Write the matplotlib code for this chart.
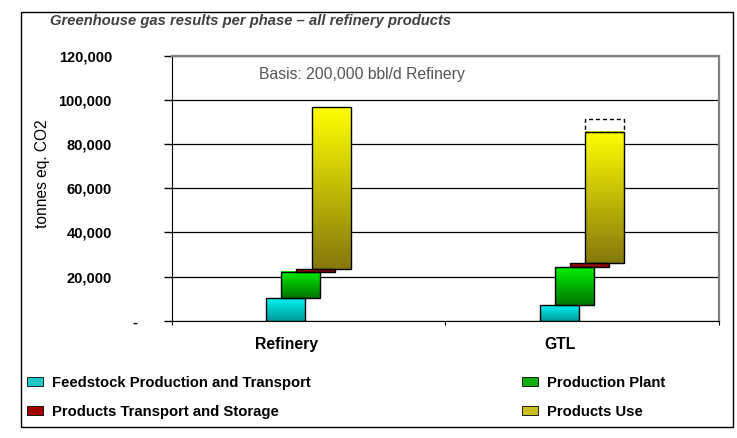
import numpy as np
import matplotlib
matplotlib.use('Agg')
import matplotlib.pyplot as plt
from matplotlib.colors import LinearSegmentedColormap
from matplotlib.patches import Patch, Rectangle
from matplotlib.transforms import blended_transform_factory

plt.rcParams['font.family'] = ['Liberation Sans', 'DejaVu Sans']

# Data (tonnes eq. CO2)
categories = ['Refinery', 'GTL']
feedstock = [10300, 7100]
production_plant = [11900, 17100]
products_transport = [1200, 1800]
products_use = [73200, 59600]
products_use_range = [0, 5700]   # dashed box on top of GTL products use

y_ticks = [0, 20000, 40000, 60000, 80000, 100000, 120000]
phase_names = ['Feedstock Production and Transport', 'Production Plant',
               'Products Transport and Storage', 'Products Use']

# gradient colours (bottom, top) for each phase
phase_colors = [('#009a9a', '#00f4f4'),
                ('#007400', '#00f000'),
                ('#7a0000', '#c81010'),
                ('#85780c', '#ffff00')]
legend_colors = ['#20c8c8', '#10b010', '#a00000', '#c8c020']

fig = plt.figure(figsize=(7.37, 4.38), dpi=100)
ax = fig.add_axes([171.7 / 737, 117.3 / 438, 547.3 / 737, 265 / 438])

bar_width = 0.1425
offsets = [-0.083, -0.028, 0.027, 0.083]
grad = np.linspace(0, 1, 256).reshape(-1, 1)

series = [feedstock, production_plant, products_transport, products_use]
for i, cat in enumerate(categories):
    base = 0
    for k, vals in enumerate(series):
        x0 = i + offsets[k] - bar_width / 2
        cmap = LinearSegmentedColormap.from_list('g%d' % k, phase_colors[k])
        ax.imshow(grad, extent=(x0, x0 + bar_width, base, base + vals[i]),
                  origin='lower', aspect='auto', cmap=cmap, zorder=2)
        ax.bar(i + offsets[k], vals[i], bottom=base, width=bar_width,
               fill=False, edgecolor='black', linewidth=1.0, zorder=3)
        base += vals[i]
    if products_use_range[i] > 0:
        ax.bar(i + offsets[3], products_use_range[i], bottom=base, width=bar_width,
               fill=False, edgecolor='black', linewidth=1.0, linestyle=(0, (3, 2)), zorder=3)

ax.set_xlim(-0.5, 1.5)
ax.set_ylim(0, 120000)

# y axis
ax.set_yticks(y_ticks)
ax.set_yticklabels(['' if v == 0 else f'{v:,}' for v in y_ticks],
                   fontsize=10.5, fontweight='bold')
ax.tick_params(axis='y', direction='out', length=6, width=1, pad=37)
trans = blended_transform_factory(fig.transFigure, ax.transData)
ax.text(135 / 737, -800, '-', transform=trans, ha='center', va='center',
        fontsize=10.5, fontweight='bold')
ax.set_ylabel('tonnes eq. CO2', fontsize=11.2)
ax.yaxis.set_label_coords(-0.222, 0.555)

# x axis: labels under first bar, small ticks at category boundaries
ax.set_xticks([i - 0.08 for i in range(len(categories))])
ax.set_xticklabels(categories, fontsize=11.3, fontweight='bold')
ax.tick_params(axis='x', length=0, pad=12)
ax.set_xticks([-0.5, 0.5, 1.5], minor=True)
ax.tick_params(axis='x', which='minor', direction='out', length=3, width=0.8)

ax.yaxis.grid(True, color='black', linewidth=0.9)
ax.set_axisbelow(True)
ax.spines['left'].set_color('black')
ax.spines['bottom'].set_color('black')
for s in ['top', 'right']:
    ax.spines[s].set_color('#808080')
    ax.spines[s].set_linewidth(1.6)

ax.text(0.16, 0.93, 'Basis: 200,000 bbl/d Refinery', transform=ax.transAxes,
        fontsize=11.3, color='#555555', va='center')

fig.text(50 / 737, 1 - 21 / 438, 'Greenhouse gas results per phase \u2013 all refinery products',
         fontsize=10.6, fontweight='bold', style='italic', color='#404040', va='center')

# legend in two columns
handles = [Patch(facecolor=c, edgecolor='black', linewidth=0.6) for c in legend_colors]
leg_kw = dict(frameon=False, handlelength=1.05, handleheight=0.5,
              handletextpad=0.6, labelspacing=1.0, borderaxespad=0, borderpad=0,
              loc='upper left', prop={'weight': 'bold', 'size': 10.7})
fig.legend([handles[0], handles[2]], [phase_names[0], phase_names[2]],
           bbox_to_anchor=(27 / 737, 1 - 376 / 438), **leg_kw)
fig.legend([handles[1], handles[3]], [phase_names[1], phase_names[3]],
           bbox_to_anchor=(522 / 737, 1 - 376 / 438), **leg_kw)

# outer frame
fig.add_artist(Rectangle((20.7 / 737, 11 / 438), 712 / 737, 415.3 / 438,
                         transform=fig.transFigure, fill=False, edgecolor='black', linewidth=1))

fig.savefig('out.png', dpi=100)
